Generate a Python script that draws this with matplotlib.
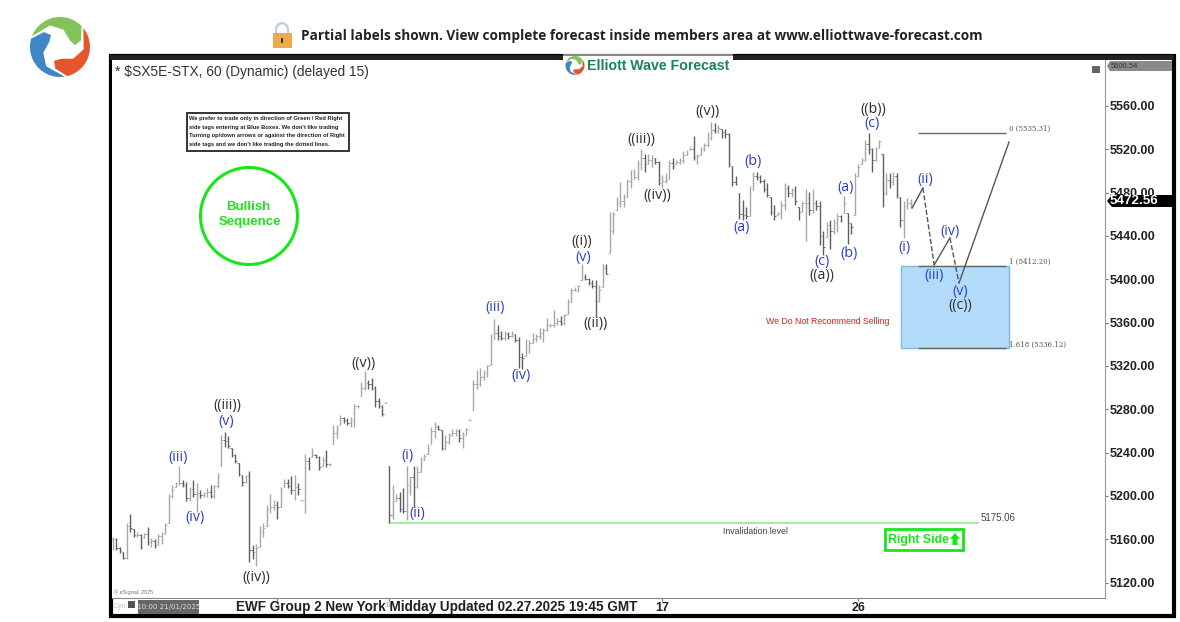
import numpy as np
import matplotlib
matplotlib.use('Agg')
import matplotlib.pyplot as plt
from matplotlib.patches import Rectangle, Circle, Wedge, Polygon

# hourly bars
bar_high = [5162,5161,5153,5148,5175,5183,5169,5167,5165,5166,5171,5161,5160,5165,5167,5175,5202,5210,5213,5228,
            5215,5213,5208,5215,5212,5205,5204,5207,5210,5210,5221,5256,5259,5255,5244,5239,5230,5219,5219,5223,
            5155,5156,5172,5175,5192,5202,5196,5195,5208,5216,5216,5218,5219,5212,5196,5239,5236,5244,5239,5237,
            5236,5242,5230,5265,5265,5275,5273,5272,5273,5285,5284,5305,5315,5307,5309,5301,5290,5284,5287,
            5228,5210,5202,5204,5207,5228,5218,5228,5228,5236,5239,5248,5264,5268,5265,5261,5256,5258,5262,5262,
            5262,5259,5263,5271,5307,5316,5318,5316,5321,5349,5363,5358,5352,5352,5351,5352,5349,5347,5332,5345,
            5344,5350,5349,5355,5355,5364,5359,5372,5364,5366,5368,5382,5392,5393,5395,5414,5405,5401,5399,5399,
            5395,5414,5414,
            5462,5462,5476,5490,5479,5493,5501,5502,5510,5520,5516,5516,5515,5512,5509,5496,5498,5510,5512,5510,
            5512,5518,5519,5522,5532,5516,5522,5526,5536,5545,5544,5542,5539,5539,5535,5505,5495,5480,5473,5467,
            5486,5499,5499,5496,5493,5489,5476,5469,5462,5472,5489,5487,5484,5486,5467,5472,5483,5481,5483,5473,
            5472,5445,5453,5455,5456,5461,5459,5477,5461,5452,5498,5506,5512,5529,5535,5521,5522,5529,5516,
            5498,5498,5499,5498,5476,5472,5475,5474]
bar_low = [5150,5150,5147,5142,5142,5167,5162,5162,5151,5161,5155,5153,5152,5155,5156,5165,5175,5198,5208,5210,
           5208,5195,5195,5199,5185,5198,5199,5199,5198,5198,5207,5228,5245,5244,5236,5230,5218,5209,5212,5139,
           5142,5135,5153,5162,5172,5184,5187,5179,5190,5208,5207,5202,5196,5201,5195,5184,5224,5236,5235,5224,
           5228,5227,5228,5248,5253,5265,5267,5265,5264,5264,5281,5292,5298,5299,5298,5282,5281,5274,5286,
           5175,5179,5195,5185,5184,5178,5201,5190,5207,5222,5233,5239,5248,5253,5261,5242,5242,5248,5255,5255,
           5250,5244,5256,5270,5279,5299,5301,5307,5310,5321,5345,5344,5344,5344,5345,5347,5342,5318,5317,5329,
           5332,5341,5342,5345,5342,5352,5356,5356,5358,5358,5358,5368,5379,5389,5388,5399,5399,5395,5392,5365,
           5379,5393,5405,
           5424,5442,5464,5467,5467,5476,5484,5493,5492,5501,5499,5506,5504,5506,5487,5484,5489,5493,5502,5506,
           5506,5507,5515,5519,5510,5506,5515,5518,5522,5529,5535,5535,5530,5530,5504,5486,5487,5456,5455,5456,
           5458,5482,5492,5489,5481,5476,5459,5455,5459,5456,5464,5476,5476,5469,5455,5462,5435,5459,5461,5464,
           5432,5422,5439,5428,5442,5444,5453,5461,5433,5442,5459,5494,5506,5509,5516,5499,5509,5521,5467,
           5478,5484,5487,5475,5448,5438,5465,5466]
bar_close = [5160,5152,5149,5143,5172,5170,5164,5164,5153,5165,5157,5158,5155,5163,5165,5173,5200,5205,5212,5212,
             5210,5198,5206,5202,5203,5201,5203,5204,5200,5209,5217,5252,5251,5246,5238,5232,5220,5213,5218,5150,
             5148,5152,5168,5170,5188,5190,5192,5190,5206,5212,5209,5205,5208,5206,5196,5232,5230,5238,5236,5227,
             5233,5229,5229,5258,5262,5272,5270,5267,5270,5283,5283,5300,5304,5303,5300,5288,5283,5276,5287,
             5182,5195,5198,5188,5186,5210,5217,5208,5222,5230,5237,5244,5260,5264,5262,5244,5250,5256,5258,5260,
             5253,5256,5262,5270,5303,5303,5310,5313,5320,5343,5350,5348,5346,5349,5348,5349,5344,5328,5327,5338,
             5341,5345,5348,5350,5353,5358,5358,5360,5361,5360,5367,5379,5390,5390,5394,5402,5400,5397,5394,5380,
             5390,5410,5405,
             5445,5460,5470,5472,5476,5491,5493,5494,5506,5512,5506,5510,5512,5508,5489,5491,5492,5507,5505,5508,
             5510,5515,5517,5520,5513,5514,5520,5524,5530,5538,5537,5540,5536,5534,5506,5490,5488,5460,5459,5458,
             5480,5495,5494,5491,5483,5478,5462,5458,5461,5469,5484,5480,5482,5472,5462,5470,5470,5464,5470,5468,
             5440,5430,5450,5445,5452,5458,5455,5470,5452,5448,5495,5504,5510,5525,5520,5510,5520,5528,5480,
             5492,5490,5495,5478,5455,5468,5470,5472.56]

price_ticks = [5120,5160,5200,5240,5280,5320,5360,5400,5440,5480,5520,5560]
date_pos = [47,79,157,213]
date_labels = ['3','10','17','26']

fib_levels = [5535.31,5412.20,5336.12]
fib_labels = ['0 (5535.31)','1 (5412.20)','1.618 (5336.12)']
invalidation = 5175.06
last_price = 5472.56

# projected path, bar number / price
path_bar = [228.4,231.5,234.7,239.2,241.8,256.1]
path_price = [5465.8,5484.3,5413.2,5438.1,5396.5,5526.8]

blue_labels = ['(iii)','(iv)','(v)','(i)','(ii)','(iii)','(iv)','(v)','(a)','(b)','(c)','(a)','(b)','(c)','(i)','(ii)','(iii)','(iv)','(v)']
blue_xy = [(178,457),(195,518),(226,422),(407,455),(417,513),(495,308),(521,376),(583,257),(742,228),(753,162),
           (822,261),(846,187),(849,253),(872,124),(904,247),(925,179),(934,275),(950,231),(960,291)]
black_labels = ['((iii))','((iv))','((v))','((i))','((ii))','((iii))','((iv))','((v))','((a))','((b))','((c))']
black_xy = [(227,406),(256,578),(363,363),(582,242),(595,324),(641,139),(657,196),(707,112),(822,276),(873,109),(960,305)]

W, H = 1180, 622
fig = plt.figure(figsize=(W/100, H/100), dpi=100, facecolor='white')

# overlay in pixel coordinates for the page furniture
bg = fig.add_axes([0, 0, 1, 1], zorder=0)
bg.set_xlim(0, W)
bg.set_ylim(H, 0)
bg.axis('off')
top = fig.add_axes([0, 0, 1, 1], zorder=5)
top.set_xlim(0, W)
top.set_ylim(H, 0)
top.axis('off')
top.patch.set_alpha(0)

# chart axes
ax_l, ax_r, ax_t, ax_b = 112, 1105, 60, 598
ax = fig.add_axes([ax_l/W, 1-ax_b/H, (ax_r-ax_l)/W, (ax_b-ax_t)/H], zorder=2)
ax.set_xlim((ax_l-112.7)/3.5, (ax_r-112.7)/3.5)
ax.set_ylim(5120+(582.5-ax_b)/1.083, 5120+(582.5-ax_t)/1.083)

bar_x = np.arange(len(bar_high))
high = np.array(bar_high, dtype=float)
low = np.array(bar_low, dtype=float)
close = np.array(bar_close, dtype=float)
opens = np.clip(np.r_[close[0], close[:-1]], low, high)
colors = ['#a6a6a6' if c >= o else '#5e5e5e' for o, c in zip(opens, close)]
ax.vlines(bar_x, low, high, colors=colors, lw=1.0, zorder=3)
ax.hlines(opens, bar_x-0.4, bar_x, colors=colors, lw=0.6, zorder=3)
ax.hlines(close, bar_x, bar_x+0.4, colors=colors, lw=0.6, zorder=3)

# blue box and fib levels
ax.add_patch(Rectangle((225.2, fib_levels[2]), 30.9, fib_levels[1]-fib_levels[2],
                       fc='#b3dcfb', ec='#7fb8e6', lw=1, zorder=1))
ax.hlines(fib_levels, 230, 255.2, colors='#666666', lw=1, zorder=2)
fib_px = [(1009,128.5),(1009,262),(1009,344.5)]
for txt, (x, y) in zip(fib_labels, fib_px):
    top.text(x, y, txt, fontsize=5, family='DejaVu Serif', color='#555555', va='center', ha='left')

# projected path
styles = ['-','--','-','--','-']
for i, st in enumerate(styles):
    ax.plot(path_bar[i:i+2], path_price[i:i+2], ls=st, color='#555555', lw=1, zorder=4)

# invalidation line
ax.hlines(invalidation, 79, 247.5, colors='#98e698', lw=1.2, zorder=2)
top.text(981, 518, '%.2f' % invalidation, fontsize=7, family='Liberation Sans', color='#444444', va='center')
top.text(755, 531.5, 'Invalidation level', fontsize=6.3, family='Liberation Sans', color='#444444', va='center', ha='center')

# axis cosmetics
for s in ['top', 'left']:
    ax.spines[s].set_visible(False)
ax.spines['right'].set_color('#999999')
ax.spines['bottom'].set_color('#888888')
ax.yaxis.tick_right()
ax.set_yticks(price_ticks)
ax.set_yticklabels(['%.2f' % p for p in price_ticks], fontsize=9, fontweight='bold',
                   family='Liberation Sans', color='#222222')
ax.tick_params(axis='y', length=2, pad=1, color='#777777')
ax.set_xticks(date_pos)
ax.set_xticklabels(date_labels, fontsize=9, fontweight='bold', family='Liberation Sans', color='#222222')
ax.tick_params(axis='x', length=2, pad=1, color='#777777')
for lab in ax.get_xticklabels()[:2]:
    lab.set_color('#bbbbbb')
    lab.set_fontsize(6)

# wave labels
for txt, (x, y) in zip(blue_labels, blue_xy):
    top.text(x, y, txt, fontsize=10.3, family='Open Sans', color='#2b3fd1', ha='center', va='center')
for txt, (x, y) in zip(black_labels, black_xy):
    top.text(x, y, txt, fontsize=10.3, family='Open Sans', color='#2e2e2e', ha='center', va='center')

# outer frame
bg.add_patch(Rectangle((110.5, 55.5), 1063.5, 560.5, fc='white', ec='black', lw=3))
top.add_patch(Rectangle((110, 55), 1064, 5, fc='#222222', ec='none'))
top.add_patch(Rectangle((563, 54), 170, 22, fc='white', ec='none'))
top.add_patch(Rectangle((563, 54), 170, 2, fc='#888888', ec='none'))

top.text(115, 72, '* $SX5E-STX, 60 (Dynamic) (delayed 15)', fontsize=9.95, family='Liberation Sans',
         color='#333333', va='center')

# note box
top.add_patch(Rectangle((186.5, 112.5), 162.5, 38.5, fc='white', ec='#333333', lw=1.4))
note = ['We prefer to trade only in direction of Green / Red Right',
        "side tags entering at Blue Boxes. We don't like trading",
        'Turning up/down arrows or against the direction of Right',
        "side tags and we don't like trading the dotted lines."]
for i, line in enumerate(note):
    top.text(189, 118.5+8.7*i, line, fontsize=4.15, fontweight='bold', family='Liberation Sans',
             color='#222222', va='center')

# bullish sequence circle
top.add_patch(Circle((249, 216), 48.5, fc='none', ec='#18e618', lw=2.2))
top.text(248, 207, 'Bullish', fontsize=9.5, fontweight='bold', family='Liberation Sans', color='#18e618', ha='center', va='center')
top.text(250, 221.5, 'Sequence', fontsize=9.5, fontweight='bold', family='Liberation Sans', color='#18e618', ha='center', va='center')

top.text(828, 321.5, 'We Do Not Recommend Selling', fontsize=6.3, family='Liberation Sans',
         color='#d62020', ha='center', va='center')

# right side tag
top.add_patch(Rectangle((885, 529), 78, 21, fc='white', ec='#18e618', lw=2))
top.text(888, 539.5, 'Right Side', fontsize=8.8, fontweight='bold', family='Liberation Sans',
         color='#18e618', ha='left', va='center')
top.add_patch(Polygon([(955,533),(960,539),(957.5,539),(957.5,545),(952.5,545),(952.5,539),(950,539)],
                      fc='#18e618', ec='none'))

# right price tags
top.add_patch(Polygon([(1107,201),(1112,195),(1172,195),(1172,207),(1112,207)], fc='black', ec='none'))
top.text(1134, 201, '%.2f' % last_price, fontsize=9.6, fontweight='bold', family='Liberation Sans',
         color='white', ha='center', va='center')
top.add_patch(Polygon([(1107,66),(1110,61),(1172,61),(1172,71),(1110,71)], fc='#8a8a8a', ec='none'))
top.text(1111, 66, '5600.54', fontsize=5.5, family='Liberation Sans', color='#333333', va='center')
top.add_patch(Rectangle((1092, 65.5), 8, 7, fc='#666666', ec='none'))

# bottom strip
top.text(114, 592.5, '\u00a9 eSignal, 2025', fontsize=4, family='Liberation Sans', color='#777777', va='center')
top.text(113, 606.5, 'Dyn', fontsize=5, family='Liberation Sans', color='#c4c4c4', va='center')
top.add_patch(Rectangle((128, 601), 7, 7, fc='#555555', ec='none'))
top.add_patch(Rectangle((138, 600), 61, 14, fc='#666666', ec='none'))
top.text(168.5, 607, '10:00 21/01/2025', fontsize=5.1, family='DejaVu Sans', color='#dddddd', ha='center', va='center')
top.text(236, 607, 'EWF Group 2 New York Midday Updated 02.27.2025 19:45 GMT', fontsize=9.75, fontweight='bold',
         family='Liberation Sans', color='#222222', va='center')

# header
top.text(301, 36, 'Partial labels shown. View complete forecast inside members area at www.elliottwave-forecast.com',
         fontsize=9.77, fontweight='bold', family='Open Sans', color='#222222', va='center')
top.add_patch(Wedge((282, 29), 7, 180, 360, width=2.4, fc='#b9cfe8', ec='none'))
top.add_patch(Rectangle((275, 28), 2.4, 6, fc='#b9cfe8', ec='none'))
top.add_patch(Rectangle((286.6, 28), 2.4, 6, fc='#b9cfe8', ec='none'))
top.add_patch(Rectangle((273, 33), 19, 15, fc='#eeaa4d', ec='none'))
top.add_patch(Rectangle((281, 38), 2.4, 5, fc='#333333', ec='none'))


def swirl(cx, cy, r):
    # one swoosh shape, turned by 120 degrees for each colour
    ang = np.radians(np.linspace(-159, -44, 30))
    outer = np.c_[np.cos(ang), np.sin(ang)]
    inner = np.array([[0.70, -0.22], [0.50, -0.06], [0.33, -0.22], [0.11, -0.58], [-0.33, -0.72]])
    shape = np.r_[outer, inner]
    for turn, col in zip([0, 120, 240], ['#84c35a', '#e4572e', '#3f86c6']):
        t = np.radians(turn)
        x = shape[:, 0]*np.cos(t) - shape[:, 1]*np.sin(t)
        y = shape[:, 0]*np.sin(t) + shape[:, 1]*np.cos(t)
        top.add_patch(Polygon(np.c_[cx+r*x, cy+r*y], fc=col, ec='none'))


swirl(60, 47, 30)
swirl(575, 65.5, 9.5)
top.text(587, 66, 'Elliott Wave Forecast', fontsize=10.2, fontweight='bold', family='Liberation Sans',
         color='#17855a', va='center')

fig.savefig('out.png', dpi=100)
